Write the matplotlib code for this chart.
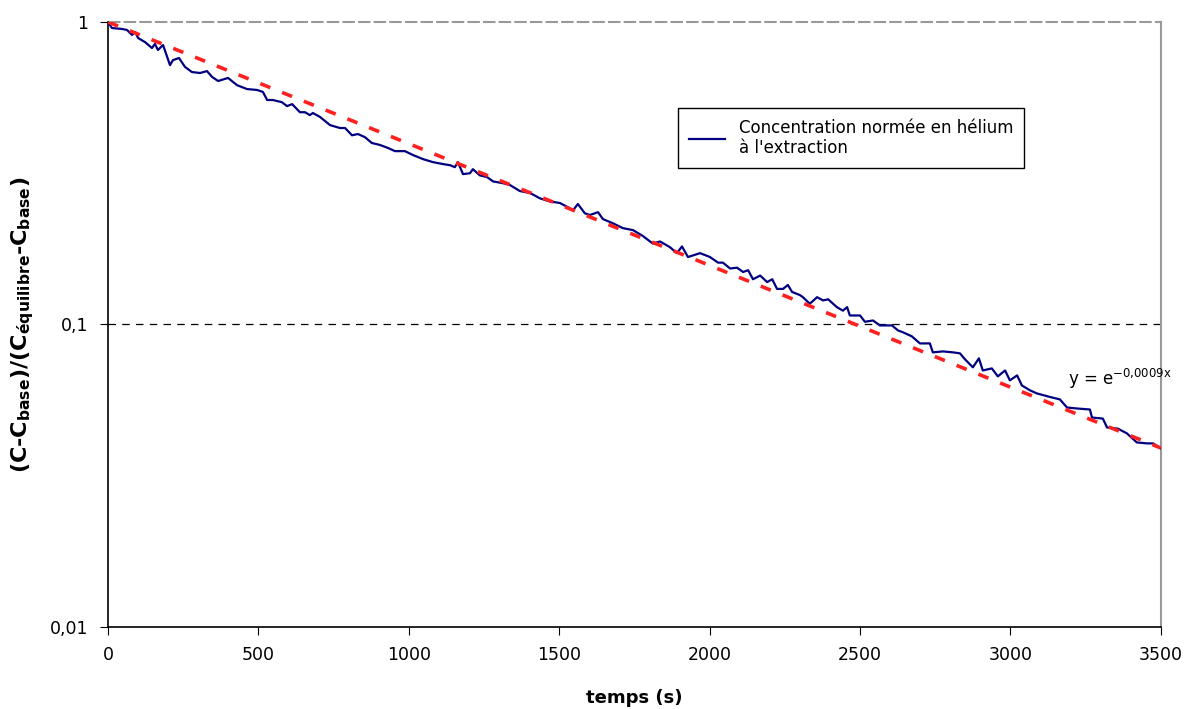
"""Decroissance de la concentration normee en helium a l'extraction (echelle log)."""
import matplotlib
matplotlib.use('Agg')
import matplotlib.pyplot as plt

# temps (s) et concentration normee
temps = [0, 13, 47, 63, 80, 90, 100, 123, 146, 156, 166, 183, 206, 216, 236, 256,
         279, 306, 329, 346, 366, 399, 429, 462, 495, 515, 529, 548, 578, 595, 612,
         638, 655, 671, 681, 705, 738, 771, 788, 811, 831, 854, 877, 904, 931, 954,
         987, 1014, 1047, 1080, 1113, 1137, 1153, 1163, 1180, 1203, 1213, 1236, 1260,
         1280, 1313, 1336, 1369, 1403, 1436, 1469, 1502, 1529, 1545, 1562, 1585, 1602,
         1629, 1645, 1678, 1712, 1745, 1778, 1811, 1835, 1868, 1891, 1908, 1928, 1968,
         2001, 2028, 2044, 2068, 2091, 2111, 2128, 2144, 2168, 2191, 2208, 2224, 2244,
         2260, 2274, 2300, 2310, 2333, 2357, 2377, 2394, 2423, 2443, 2457, 2466, 2500,
         2516, 2543, 2566, 2606, 2626, 2643, 2672, 2699, 2732, 2742, 2775, 2809, 2832,
         2849, 2875, 2895, 2908, 2938, 2958, 2982, 2998, 3022, 3038, 3065, 3088, 3138,
         3164, 3188, 3221, 3264, 3271, 3307, 3321, 3357, 3387, 3420, 3454, 3474, 3500]
concentration = [1.000, 0.955, 0.948, 0.941, 0.906, 0.927, 0.885, 0.858, 0.820, 0.846,
                 0.808, 0.839, 0.720, 0.748, 0.760, 0.710, 0.683, 0.678, 0.688, 0.658,
                 0.638, 0.653, 0.618, 0.600, 0.596, 0.587, 0.552, 0.552, 0.543, 0.527,
                 0.535, 0.503, 0.503, 0.492, 0.500, 0.485, 0.456, 0.446, 0.446, 0.422,
                 0.426, 0.416, 0.398, 0.392, 0.383, 0.374, 0.374, 0.363, 0.352, 0.344,
                 0.339, 0.336, 0.331, 0.344, 0.314, 0.316, 0.326, 0.311, 0.307, 0.297,
                 0.293, 0.289, 0.276, 0.272, 0.261, 0.255, 0.252, 0.244, 0.238, 0.250,
                 0.233, 0.230, 0.235, 0.223, 0.216, 0.208, 0.205, 0.196, 0.185, 0.188,
                 0.180, 0.172, 0.181, 0.167, 0.172, 0.167, 0.160, 0.160, 0.153, 0.154,
                 0.149, 0.151, 0.141, 0.145, 0.138, 0.141, 0.131, 0.131, 0.135, 0.128,
                 0.125, 0.123, 0.117, 0.123, 0.120, 0.121, 0.114, 0.111, 0.114, 0.107,
                 0.107, 0.102, 0.103, 0.0992, 0.0992, 0.0955, 0.0941, 0.0913, 0.0865,
                 0.0865, 0.0808, 0.0814, 0.0808, 0.0802, 0.0766, 0.0721, 0.0772, 0.0704,
                 0.0715, 0.0673, 0.0704, 0.0653, 0.0678, 0.0628, 0.0605, 0.0591, 0.0573,
                 0.0565, 0.0531, 0.0527, 0.0523, 0.0492, 0.0488, 0.0456, 0.0452, 0.0436,
                 0.0407, 0.0404, 0.0404, 0.0389]

# tendance exponentielle y = e^(-0,0009x), extremites
fit_temps = [0, 3500]
fit_valeurs = [1.0, 0.039]

xticks = [0, 500, 1000, 1500, 2000, 2500, 3000, 3500]
yticks = [0.01, 0.1, 1]
ytick_labels = ['0,01', '0,1', '1']


def main():
    plt.rcParams['font.family'] = ['DejaVu Sans']
    plt.rcParams['mathtext.fontset'] = 'dejavusans'
    plt.rcParams['mathtext.default'] = 'bf'

    fig = plt.figure(figsize=(11.87, 7.09), dpi=100)
    ax = fig.add_axes([0.091, 0.116, 0.887, 0.853])

    ax.plot(temps, concentration, color='#000080', lw=1.6,
            label="Concentration normée en hélium\nà l'extraction", zorder=3)
    ax.plot(fit_temps, fit_valeurs, color='#ff2020', lw=2.6,
            dashes=(3, 3.5), zorder=4)

    ax.set_yscale('log')
    ax.set_xlim(0, 3500)
    ax.set_ylim(0.01, 1)
    ax.set_xticks(xticks)
    ax.set_xticklabels([str(t) for t in xticks])
    ax.set_yticks(yticks)
    ax.set_yticklabels(ytick_labels)
    ax.yaxis.set_minor_locator(matplotlib.ticker.NullLocator())
    ax.tick_params(direction='out', length=6, labelsize=12.5, pad=8)

    # lignes de quadrillage horizontales
    ax.axhline(0.1, color='black', lw=0.9, dashes=(6, 5), zorder=1)
    ax.axhline(1, color='#999999', lw=1.5, dashes=(6, 1.5), zorder=1, clip_on=False)

    ax.spines['top'].set_visible(False)
    ax.spines['right'].set_color('#999999')
    ax.spines['right'].set_linewidth(1.5)
    ax.spines['left'].set_linewidth(1.2)
    ax.spines['bottom'].set_linewidth(1.2)

    ax.set_xlabel('temps (s)', fontsize=13, fontweight='bold', labelpad=18)
    ax.set_ylabel(r'(C-C$_{base}$)/(C$_{équilibre}$-C$_{base}$)',
                  fontsize=16, fontweight='bold', labelpad=10)

    ax.text(3190, 0.066, r'y = e$^{\mathrm{-0{,}0009x}}$', fontsize=12,
            va='center', ha='left')

    leg = ax.legend(loc='upper left', bbox_to_anchor=(0.571, 0.848),
                    bbox_transform=fig.transFigure, fancybox=False,
                    edgecolor='black', framealpha=1, fontsize=12,
                    handlelength=2.2, borderaxespad=0, borderpad=0.65)
    leg.get_frame().set_linewidth(1.0)

    fig.savefig('out.png', dpi=100)


if __name__ == '__main__':
    main()
